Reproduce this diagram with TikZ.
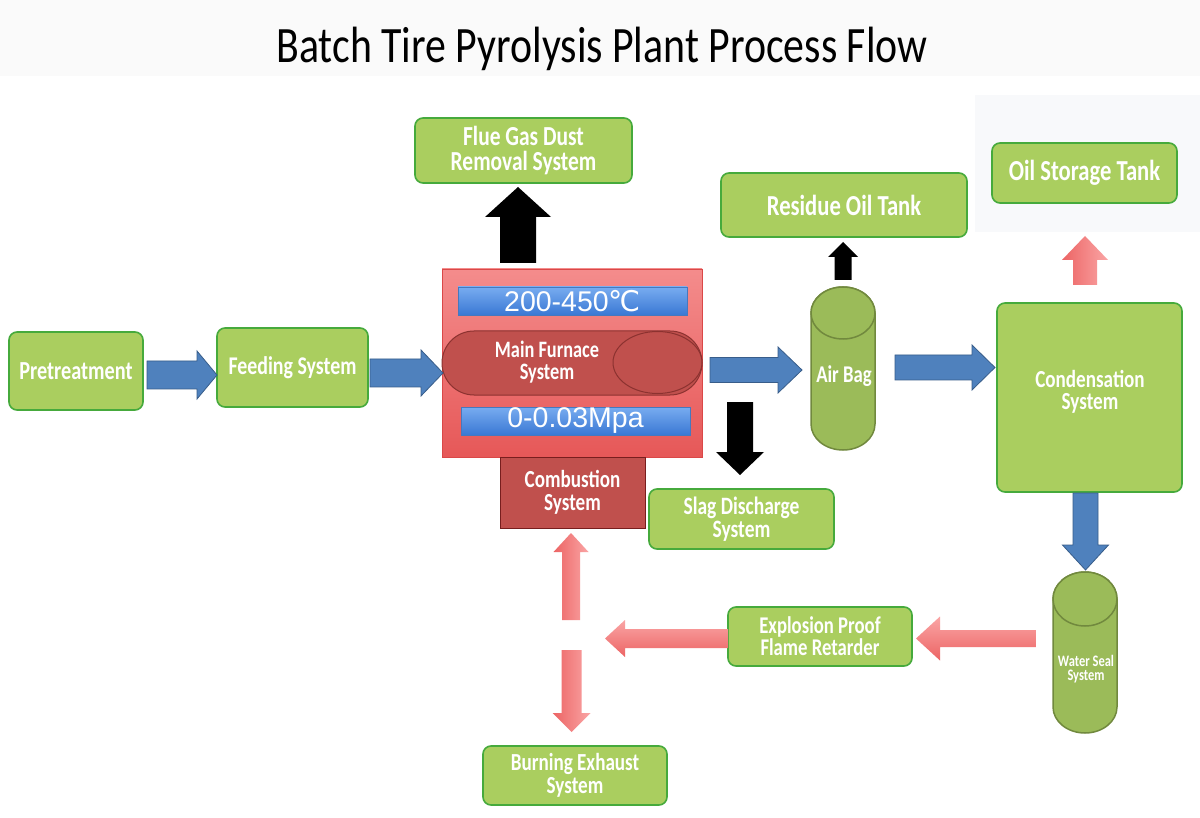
\documentclass[tikz,border=0pt]{standalone}
\usepackage{fontspec}
\setmainfont{Carlito}
\newfontfamily\lab[FakeStretch=0.78]{Carlito}
\newfontfamily\ttl[FakeStretch=0.82]{Carlito}
\newfontfamily\arl{Liberation Sans}
\newfontfamily\dvs{DejaVu Sans}
\definecolor{gfill}{RGB}{170,206,95}
\definecolor{gline}{RGB}{70,170,60}
\definecolor{bfill}{RGB}{79,129,189}
\definecolor{bline}{RGB}{56,93,138}
\definecolor{cfill}{RGB}{155,187,89}
\definecolor{cline}{RGB}{113,137,62}
\definecolor{dred}{RGB}{192,80,77}
\definecolor{dredline}{RGB}{140,50,48}
\definecolor{fur1}{RGB}{244,140,140}
\definecolor{fur2}{RGB}{230,88,88}
\definecolor{furline}{RGB}{218,72,72}
\definecolor{bar1}{RGB}{120,172,240}
\definecolor{bar2}{RGB}{58,120,212}
\definecolor{barline}{RGB}{70,120,190}
\definecolor{pk1}{RGB}{236,100,100}
\definecolor{pk2}{RGB}{250,165,165}
\definecolor{faint}{RGB}{248,249,251}
\definecolor{faint2}{RGB}{250,250,250}
\newcommand\fs[2]{\lab\bfseries\fontsize{#1}{#2}\selectfont}
% style, tail, head base, tip, centre, shaft half, head half
\newcommand\harrow[7]{\path[#1] (#2,#5-#6) -- (#3,#5-#6) -- (#3,#5-#7) -- (#4,#5) -- (#3,#5+#7) -- (#3,#5+#6) -- (#2,#5+#6) -- cycle;}
\newcommand\varrow[7]{\path[#1] (#5-#6,#2) -- (#5-#6,#3) -- (#5-#7,#3) -- (#5,#4) -- (#5+#7,#3) -- (#5+#6,#3) -- (#5+#6,#2) -- cycle;}
\tikzset{
  gbox/.style={draw=gline, line width=1.6pt, fill=gfill, rounded corners=8pt, text=white, align=center, inner sep=0pt},
  lbl/.style={text=white, align=center, inner sep=0pt},
  barrow/.style={fill=bfill, draw=bline, line width=0.8pt},
  karrow/.style={fill=black},
  parrowV/.style={shade, left color=pk1, right color=pk2},
  parrowH/.style={shade, top color=pk2, bottom color=pk1},
  cylst/.style={fill=cfill, draw=cline, line width=1.5pt},
  barst/.style={shade, top color=bar1, bottom color=bar2, draw=barline, line width=0.6pt, text=white, inner sep=0pt, font={\arl\fontsize{28.5}{30}\selectfont}},
}
\begin{document}
\begin{tikzpicture}[x=1pt,y=-1pt]
\useasboundingbox (0,0) rectangle (1200,818);
\fill[white] (0,0) rectangle (1200,818);
\fill[faint2] (0,0) rectangle (1200,76);
\fill[faint] (975,95) rectangle (1200,232);

% title
\node[anchor=base, inner sep=0pt, font={\ttl\fontsize{51}{55}\selectfont}] (title) at (602,63) {Batch Tire Pyrolysis Plant Process Flow};

% green boxes
\node[gbox, minimum width=134pt, minimum height=78pt, font={\fs{26}{22}}] (pre) at (76,371) {Pretreatment};
\node[gbox, minimum width=151pt, minimum height=79pt, font={\fs{25.5}{22}}] (feed) at (292.5,367.5) {Feeding System};
\node[gbox, minimum width=217pt, minimum height=65pt, font={\fs{27.5}{25.5}}] (flue) at (523.5,150.5) {Flue Gas Dust\\Removal System};
\node[gbox, minimum width=246pt, minimum height=64pt, font={\fs{29}{24}}] (residue) at (844,205) {Residue Oil Tank};
\node[gbox, minimum width=185pt, minimum height=60pt, font={\fs{29}{24}}] (oil) at (1084.5,173) {Oil Storage Tank};
\node[gbox, minimum width=185pt, minimum height=189pt] (cond) at (1089.5,397.5) {};
\node[lbl, font={\fs{24.5}{22.5}}] (condt) at (1090,392) {Condensation\\System};
\node[gbox, minimum width=185pt, minimum height=60pt, font={\fs{25}{23}}] (slag) at (741.5,519) {Slag Discharge\\System};
\node[gbox, minimum width=184pt, minimum height=59pt, font={\fs{24}{22}}] (expl) at (820,636.5) {Explosion Proof\\Flame Retarder};
\node[gbox, minimum width=184pt, minimum height=59pt, font={\fs{24.5}{22.5}}] (burn) at (575,775.5) {Burning Exhaust\\System};

% furnace
\node[shade, top color=fur1, bottom color=fur2, draw=furline, line width=0.8pt, minimum width=260pt, minimum height=188pt, inner sep=0pt] (furnace) at (572,363) {};
\node[barst, minimum width=229pt, minimum height=28pt] (temp) at (572.5,301) {200-450{\dvs ℃}};
\node[barst, minimum width=229pt, minimum height=28pt] (pres) at (575.5,421) {0-0.03Mpa};
\node[fill=dred, draw=dredline, line width=1pt, rounded corners=32pt, minimum width=260pt, minimum height=64pt, inner sep=0pt] (oval) at (572,363) {};
\draw[fill=dred, draw=dredline, line width=1pt] (657.5,362.5) ellipse[x radius=44.5, y radius=31];
\node[lbl, font={\fs{23.5}{22.5}}] (furt) at (547,362) {Main Furnace\\System};
\node[fill=dred, draw={rgb,255:red,120;green,30;blue,30}, line width=1pt, minimum width=145pt, minimum height=71pt, inner sep=0pt, text=white, align=center, font={\fs{24.5}{23.5}}] (comb) at (572.5,492.5) {Combustion\\System};

% cylinders
\path[cylst] (811,313) -- (811,424) arc[start angle=180, end angle=0, x radius=32, y radius=26] -- (875,313) arc[start angle=0, end angle=-180, x radius=32, y radius=26] -- cycle;
\draw[cylst] (843,313) ellipse[x radius=32, y radius=26];
\node[lbl, font={\fs{24}{18}}] (air) at (844,376) {Air Bag};
\path[cylst] (1053,599) -- (1053,707) arc[start angle=180, end angle=0, x radius=32, y radius=26] -- (1117,599) arc[start angle=0, end angle=-180, x radius=32, y radius=27] -- cycle;
\draw[cylst] (1085,599) ellipse[x radius=32, y radius=27];
\node[lbl, font={\fs{16}{14.5}}] (water) at (1086,669) {Water Seal\\System};

% blue arrows
\harrow{barrow}{147}{197}{217}{375}{14}{24}
\harrow{barrow}{370}{421}{443}{373}{14}{23}
\harrow{barrow}{710}{778}{802}{370}{12.5}{23}
\harrow{barrow}{895}{972}{995}{367.5}{12.5}{22.5}
\varrow{barrow}{493}{545}{570}{1085.5}{12.5}{23}

% black arrows
\varrow{karrow}{263}{217}{187}{518}{18}{33}
\varrow{karrow}{402}{452}{475}{740}{13}{24}
\varrow{karrow}{280}{257}{242}{843}{8.5}{15}

% pink arrows
\varrow{parrowV}{285}{260}{236}{1085}{12}{23}
\harrow{parrowH}{1036}{940}{916}{638.5}{8.5}{22}
\harrow{parrowH}{728}{625}{605}{638.5}{9.5}{18.5}
\varrow{parrowV}{620}{552}{533}{571}{9}{17.5}
\varrow{parrowV}{650}{713}{732}{571.5}{10}{19}
\end{tikzpicture}
\end{document}
